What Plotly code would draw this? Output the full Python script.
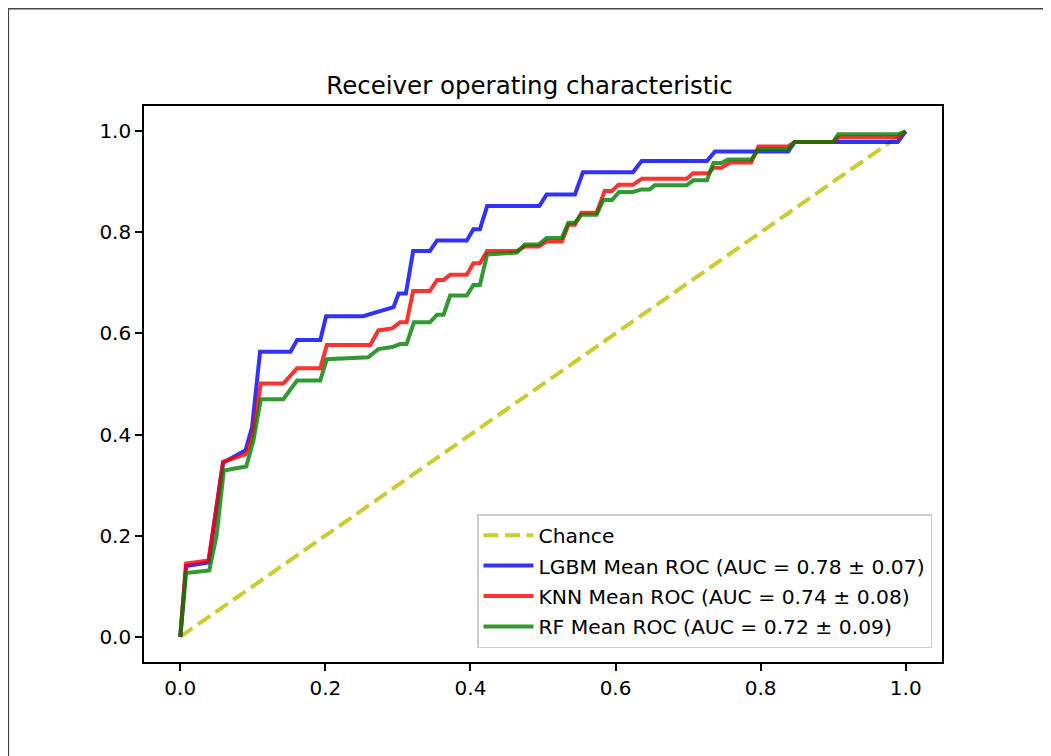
import plotly.graph_objects as go

# ---- data ----
chance_x = [0, 1]
chance_y = [0, 1]

lgbm_fpr = [0, 0.008, 0.039, 0.059, 0.09, 0.099, 0.11, 0.152, 0.161, 0.193, 0.201, 0.252, 0.294, 0.301, 0.311,
            0.321, 0.344, 0.354, 0.395, 0.404, 0.413, 0.423, 0.495, 0.505, 0.544, 0.555, 0.624, 0.636, 0.726,
            0.737, 0.838, 0.847, 0.989, 1.0]
lgbm_tpr = [0, 0.14, 0.147, 0.344, 0.369, 0.415, 0.564, 0.564, 0.587, 0.587, 0.634, 0.634, 0.652, 0.679, 0.679,
            0.763, 0.763, 0.784, 0.784, 0.806, 0.806, 0.852, 0.852, 0.875, 0.875, 0.919, 0.919, 0.941, 0.941,
            0.96, 0.96, 0.979, 0.979, 1.0]

knn_fpr = [0, 0.008, 0.039, 0.059, 0.09, 0.099, 0.111, 0.142, 0.161, 0.193, 0.202, 0.262, 0.273, 0.292, 0.303,
           0.312, 0.321, 0.344, 0.354, 0.363, 0.372, 0.395, 0.404, 0.413, 0.423, 0.464, 0.475, 0.494, 0.505,
           0.526, 0.535, 0.544, 0.553, 0.574, 0.585, 0.595, 0.604, 0.624, 0.636, 0.698, 0.707, 0.728, 0.735,
           0.746, 0.758, 0.787, 0.797, 0.838, 0.847, 0.9, 0.908, 0.988, 1.0]
knn_tpr = [0, 0.145, 0.151, 0.346, 0.361, 0.395, 0.501, 0.501, 0.531, 0.531, 0.577, 0.577, 0.606, 0.61, 0.622,
           0.622, 0.684, 0.684, 0.706, 0.706, 0.716, 0.716, 0.739, 0.739, 0.763, 0.763, 0.772, 0.772, 0.782,
           0.782, 0.815, 0.815, 0.839, 0.839, 0.882, 0.882, 0.894, 0.894, 0.906, 0.906, 0.917, 0.917, 0.928,
           0.928, 0.938, 0.938, 0.97, 0.97, 0.979, 0.979, 0.988, 0.988, 1.0]

rf_fpr = [0, 0.008, 0.04, 0.05, 0.06, 0.091, 0.101, 0.111, 0.142, 0.161, 0.193, 0.202, 0.259, 0.273, 0.292,
          0.303, 0.312, 0.322, 0.344, 0.354, 0.363, 0.372, 0.395, 0.404, 0.413, 0.423, 0.464, 0.475, 0.494,
          0.505, 0.526, 0.535, 0.544, 0.553, 0.574, 0.583, 0.595, 0.605, 0.624, 0.636, 0.647, 0.654, 0.698,
          0.707, 0.726, 0.735, 0.746, 0.755, 0.787, 0.797, 0.838, 0.847, 0.9, 0.907, 0.989, 1.0]
rf_tpr = [0, 0.126, 0.131, 0.2, 0.329, 0.337, 0.389, 0.47, 0.47, 0.507, 0.507, 0.549, 0.553, 0.569, 0.573,
          0.579, 0.579, 0.622, 0.622, 0.637, 0.637, 0.675, 0.675, 0.696, 0.696, 0.756, 0.76, 0.776, 0.776,
          0.789, 0.789, 0.819, 0.819, 0.835, 0.835, 0.864, 0.864, 0.88, 0.88, 0.885, 0.885, 0.893, 0.893,
          0.903, 0.903, 0.937, 0.937, 0.944, 0.944, 0.964, 0.964, 0.979, 0.979, 0.994, 0.994, 1.0]

names = ["Chance",
         "LGBM Mean ROC (AUC = 0.78 \u00b1 0.07)",
         "KNN Mean ROC (AUC = 0.74 \u00b1 0.08)",
         "RF Mean ROC (AUC = 0.72 \u00b1 0.09)"]
tick_vals = [0.0, 0.2, 0.4, 0.6, 0.8, 1.0]

# page has an 8px body margin; figure coordinates = window coordinates - 8
W, H = 1043, 748
L, R, T, B = 135.5, 109, 97.5, 94

fig = go.Figure()
fig.add_trace(go.Scatter(x=chance_x, y=chance_y, mode="lines", name=names[0], opacity=0.8,
                         legendgroup="g0",
                         line=dict(color="#bfbf00", width=4, dash="15px,6.5px")))
for i, (fx, ty, nm, col) in enumerate([(lgbm_fpr, lgbm_tpr, names[1], "#0000ff"),
                                       (knn_fpr, knn_tpr, names[2], "#ff0000"),
                                       (rf_fpr, rf_tpr, names[3], "#008000")]):
    fig.add_trace(go.Scatter(x=fx, y=ty, mode="lines", name=nm, opacity=0.8,
                             legendgroup=f"g{i+1}",
                             line=dict(color=col, width=4)))

axis_common = dict(range=[-0.05, 1.05], tickvals=tick_vals, tickformat=".1f",
                   showgrid=False, zeroline=False, showline=True, linecolor="black", linewidth=1.6,
                   mirror=True, ticks="outside", ticklen=7, tickwidth=1.6, tickcolor="black",
                   tickfont=dict(family="DejaVu Sans", size=20, color="black"))

pw = W - L - R
ph = H - T - B
fig.update_layout(
    width=W, height=H,
    margin=dict(l=L, r=R, t=T, b=B, autoexpand=False),
    paper_bgcolor="white", plot_bgcolor="white",
    title=dict(text="Receiver operating characteristic", x=0.5, xanchor="center",
               y=1 - 77 / H, yanchor="middle",
               font=dict(family="DejaVu Sans", size=24.5, color="black")),
    xaxis=axis_common, yaxis=axis_common,
    legend=dict(x=(924 - L) / pw, y=(H - B - 640) / ph, xanchor="right", yanchor="bottom",
                bgcolor="rgba(255,255,255,0.8)", bordercolor="#cccccc", borderwidth=1.5,
                itemwidth=50, tracegroupgap=1,
                font=dict(family="DejaVu Sans", size=20.3, color="black")),
    shapes=[dict(type="rect", xref="paper", yref="paper",
                 x0=(-0.5 - L) / pw, x1=(W + 20 - L) / pw,
                 y0=(H - B - (H + 20)) / ph, y1=(H - B - 0) / ph,
                 line=dict(color="#444444", width=2), fillcolor="rgba(0,0,0,0)", layer="below")],
)

fig.write_html("out.html")
